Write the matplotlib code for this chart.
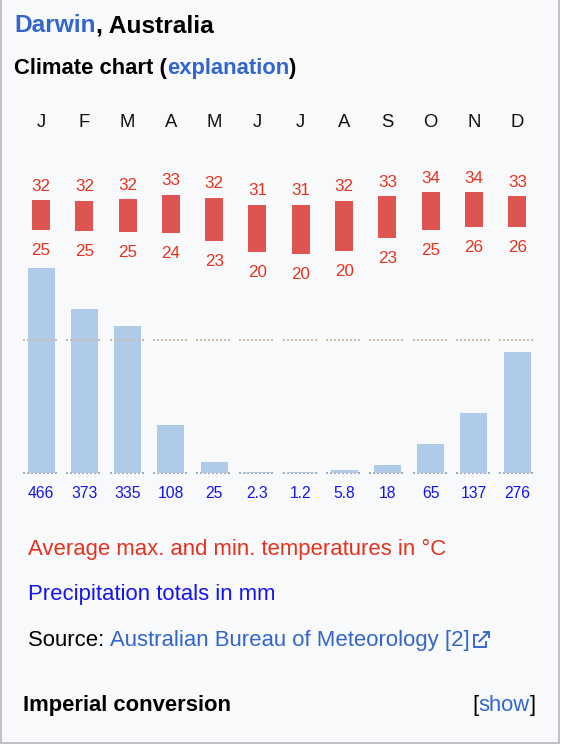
import matplotlib
matplotlib.use('Agg')
import matplotlib.pyplot as plt
import numpy as np
from matplotlib import transforms
from matplotlib.patches import Rectangle
from matplotlib.lines import Line2D
from matplotlib.font_manager import FontProperties

# ---------------- data ----------------
months = ['J', 'F', 'M', 'A', 'M', 'J', 'J', 'A', 'S', 'O', 'N', 'D']
temp_max = [31.8, 31.6, 32.0, 33.0, 32.3, 30.7, 30.7, 31.6, 32.7, 33.6, 33.6, 32.7]
temp_min = [25.0, 24.8, 24.6, 24.3, 22.6, 20.0, 19.6, 20.2, 23.2, 25.0, 25.6, 25.6]
precip = [466, 373, 335, 108, 25, 2.3, 1.2, 5.8, 18, 65, 137, 276]
precip_labels = ['466', '373', '335', '108', '25', '2.3', '1.2', '5.8', '18', '65', '137', '276']

# ---------------- style ----------------
W, H, DPI = 564, 744, 100
PT = 72.0 / DPI
FONT = ['Liberation Sans', 'DejaVu Sans']
BG = '#f8f9fa'
BORDER = '#c0c2c5'
LINK = '#3366cc'
RED_TXT = '#e5321f'
RED_BAR = '#dd5450'
BLUE_TXT = '#1414ee'
BLUE_BAR = '#b0cbea'

plt.rcParams['font.family'] = FONT

fig = plt.figure(figsize=(W / DPI, H / DPI), dpi=DPI, facecolor=BG)

# layout (pixels)
C0, STEP = 41.0, 43.3
AX_TOP, AX_BOT = 140, 480
T0_PX, T_SCALE = 340.0, 4.4      # 0 degC line and px per degC
P0_PX, P_SCALE = 473.0, 0.44     # 0 mm line and px per mm

left = (C0 - STEP / 2) / W
axp = fig.add_axes([left, 1 - AX_BOT / H, 12 * STEP / W, (AX_BOT - AX_TOP) / H])
axp.set_xlim(-0.5, 11.5)
axp.set_ylim((P0_PX - AX_BOT) / P_SCALE, (P0_PX - AX_TOP) / P_SCALE)
axt = axp.twinx()
axt.set_ylim((T0_PX - AX_BOT) / T_SCALE, (T0_PX - AX_TOP) / T_SCALE)
for a in (axp, axt):
    a.set_axis_off()
    a.patch.set_visible(False)

x = np.arange(len(months))
seg = 18 / STEP
zeros = np.zeros(len(months))

# precipitation
axp.hlines(zeros, x - seg, x + seg, colors='#a6abb1', linestyles=(0, (1, 1)),
           linewidth=2 * PT, zorder=1)
axp.bar(x, precip, width=27 / STEP, color=BLUE_BAR, zorder=2)

# temperature
tmax = np.array(temp_max)
tmin = np.array(temp_min)
axt.bar(x, tmax - tmin, bottom=tmin, width=18 / STEP, color=RED_BAR, zorder=2)
axt.hlines(zeros, x - seg, x + seg, colors='#cdbba7', linestyles=(0, (1, 1)),
           linewidth=2 * PT, zorder=3)

def rnd(v):
    return str(int(np.floor(v + 0.5)))

for i in x:
    axt.annotate(rnd(tmax[i]), xy=(i, tmax[i]), xytext=(0, 9.5 * PT),
                 textcoords='offset points', ha='center', va='baseline',
                 fontsize=17 * PT, color=RED_TXT)
    axt.annotate(rnd(tmin[i]), xy=(i, tmin[i]), xytext=(0, -25 * PT),
                 textcoords='offset points', ha='center', va='baseline',
                 fontsize=17 * PT, color=RED_TXT)

trans = transforms.blended_transform_factory(axt.transData, fig.transFigure)
for i, m in enumerate(months):
    axt.text(i, 1 - 127 / H, m, transform=trans, ha='center', va='baseline',
             fontsize=18.5 * PT, color='#111111', clip_on=False)
for i, lab in enumerate(precip_labels):
    axt.text(i, 1 - 498 / H, lab, transform=trans, ha='center', va='baseline',
             fontsize=15.8 * PT, color=BLUE_TXT, clip_on=False)

# ---------------- texts ----------------
renderer = fig.canvas.get_renderer()

def text_w(s, size_px, weight='normal'):
    prop = FontProperties(family=FONT, size=size_px * PT, weight=weight)
    w1, _, _ = renderer.get_text_width_height_descent(s + '|', prop, ismath=False)
    w2, _, _ = renderer.get_text_width_height_descent('|', prop, ismath=False)
    return w1 - w2

def inline(parts, x_px, y_px, size_px, weight='normal'):
    acc = ''
    for s, c in parts:
        xx = x_px + (text_w(acc, size_px, weight) if acc else 0)
        fig.text(xx / W, 1 - y_px / H, s, color=c, fontsize=size_px * PT,
                 fontweight=weight, ha='left', va='baseline')
        acc += s
    return x_px + text_w(acc, size_px, weight)

inline([('Darwin', LINK), (', Australia', 'black')], 14, 32, 24.5, 'bold')
inline([('Climate chart (', 'black'), ('explanation', LINK), (')', 'black')], 14, 74, 22, 'bold')
fig.text(28 / W, 1 - 555 / H, 'Average max. and min. temperatures in °C', color=RED_TXT,
         fontsize=22.2 * PT, ha='left', va='baseline')
fig.text(28 / W, 1 - 600 / H, 'Precipitation totals in mm', color=BLUE_TXT,
         fontsize=22.2 * PT, ha='left', va='baseline')
xe = inline([('Source: ', 'black'), ('Australian Bureau of Meteorology [2]', LINK)], 28, 646, 22.1)
inline([('Imperial conversion', 'black')], 23, 711, 22, 'bold')
sw = text_w('[show]', 22)
inline([('[', 'black'), ('show', LINK), (']', 'black')], 535.5 - sw, 711, 22)

# external link icon
def fpx(xs, ys):
    return [v / W for v in xs], [1 - v / H for v in ys]
ix = xe + 5
for xs, ys in [
    ([ix + 5, ix, ix, ix + 12, ix + 12], [635, 635, 647, 647, 641]),
    ([ix + 5, ix + 15], [642, 632]),
    ([ix + 9, ix + 15, ix + 15], [632, 632, 638]),
]:
    fx, fy = fpx(xs, ys)
    fig.add_artist(Line2D(fx, fy, color=LINK, linewidth=1.9 * PT,
                          solid_capstyle='butt', solid_joinstyle='miter'))

# ---------------- frame ----------------
fig.add_artist(Rectangle((0, 0), 2 / W, 1, transform=fig.transFigure,
                         facecolor=BORDER, edgecolor='none'))
fig.add_artist(Rectangle((558 / W, 0), 2 / W, 1, transform=fig.transFigure,
                         facecolor=BORDER, edgecolor='none'))
fig.add_artist(Rectangle((560 / W, 0), 4 / W, 1, transform=fig.transFigure,
                         facecolor='white', edgecolor='none'))
fig.add_artist(Rectangle((0, 0), 560 / W, 2 / H, transform=fig.transFigure,
                         facecolor=BORDER, edgecolor='none'))

fig.savefig('out.png', dpi=DPI, facecolor=BG)
